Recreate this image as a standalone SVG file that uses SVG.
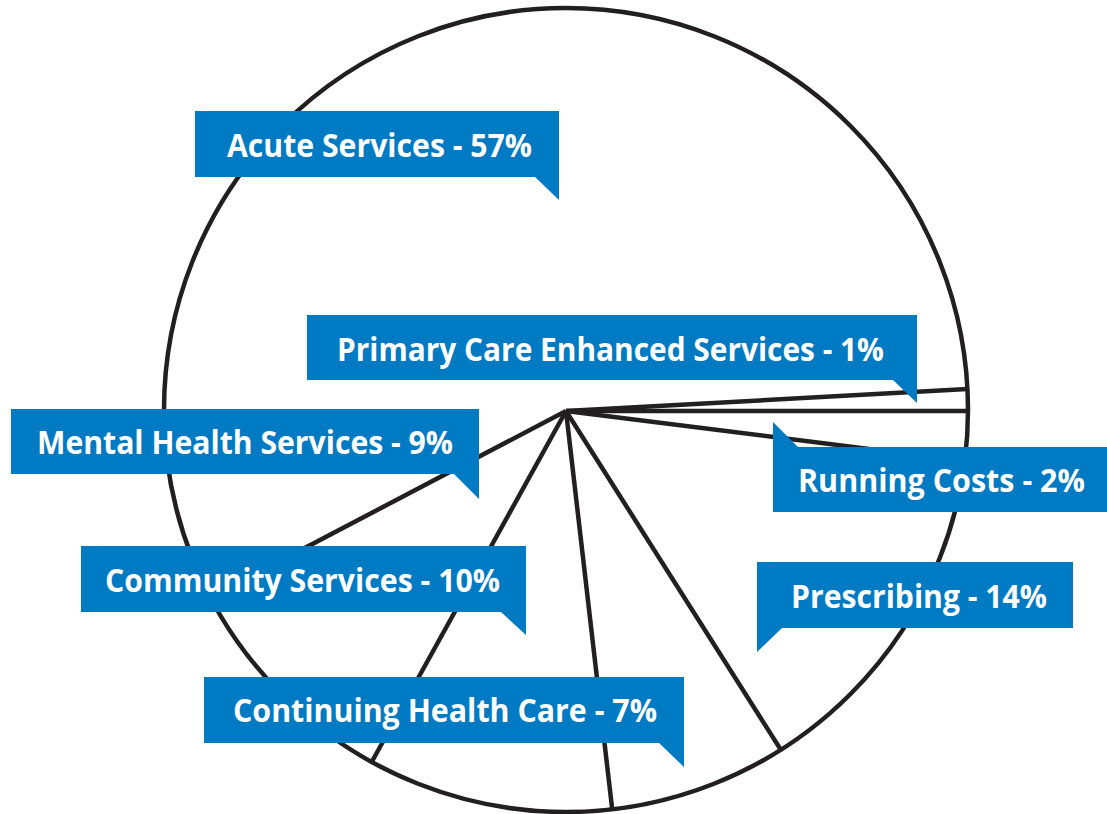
<svg xmlns="http://www.w3.org/2000/svg" width="1107" height="814" viewBox="0 0 1107 814">
<style>
.pie{fill:none;stroke:#231f20;stroke-width:4.5;stroke-linecap:butt}
.box{fill:#007ac2}
.lbl{font-family:"Open Sans","Liberation Sans",sans-serif;font-weight:700;font-size:32px;fill:#ffffff}
</style>
<rect width="1107" height="814" fill="#ffffff"/>
<g id="pie">
<circle class="pie" cx="566" cy="410" r="402"/>
</g>
<g id="connectors">
<line class="pie" x1="566" y1="411" x2="967.4" y2="389"/>
<line class="pie" x1="566" y1="411" x2="968" y2="411"/>
<line class="pie" x1="566" y1="411" x2="964.7" y2="461"/>
<line class="pie" x1="566" y1="411" x2="780.8" y2="749.8"/>
<line class="pie" x1="566" y1="411" x2="612.2" y2="809.3"/>
<line class="pie" x1="566" y1="411" x2="371.7" y2="762"/>
<line class="pie" x1="566" y1="411" x2="210.4" y2="597.5"/>
</g>
<g id="acute">
<path class="box" d="M195 111H559V200L535 177H195Z"/>
<text class="lbl" x="227" y="157" textLength="305" lengthAdjust="spacingAndGlyphs">Acute Services - 57%</text>
</g>
<g id="primary">
<path class="box" d="M307 315H917V403L893 380H307Z"/>
<text class="lbl" x="337" y="361" textLength="547" lengthAdjust="spacingAndGlyphs">Primary Care Enhanced Services - 1%</text>
</g>
<g id="mental">
<path class="box" d="M11 409H479V499L454 474H11Z"/>
<text class="lbl" x="37" y="454" textLength="416" lengthAdjust="spacingAndGlyphs">Mental Health Services - 9%</text>
</g>
<g id="running">
<path class="box" d="M773 422L798 447H1107V512H773Z"/>
<text class="lbl" x="798" y="492" textLength="287" lengthAdjust="spacingAndGlyphs">Running Costs - 2%</text>
</g>
<g id="community">
<path class="box" d="M81 546H526V635L501 612H81Z"/>
<text class="lbl" x="105" y="592" textLength="395" lengthAdjust="spacingAndGlyphs">Community Services - 10%</text>
</g>
<g id="prescribing">
<path class="box" d="M757 562H1073V628H782L757 652Z"/>
<text class="lbl" x="791" y="608" textLength="256" lengthAdjust="spacingAndGlyphs">Prescribing - 14%</text>
</g>
<g id="continuing">
<path class="box" d="M204 677H684V767L659 743H204Z"/>
<text class="lbl" x="233" y="722" textLength="424" lengthAdjust="spacingAndGlyphs">Continuing Health Care - 7%</text>
</g>
</svg>
